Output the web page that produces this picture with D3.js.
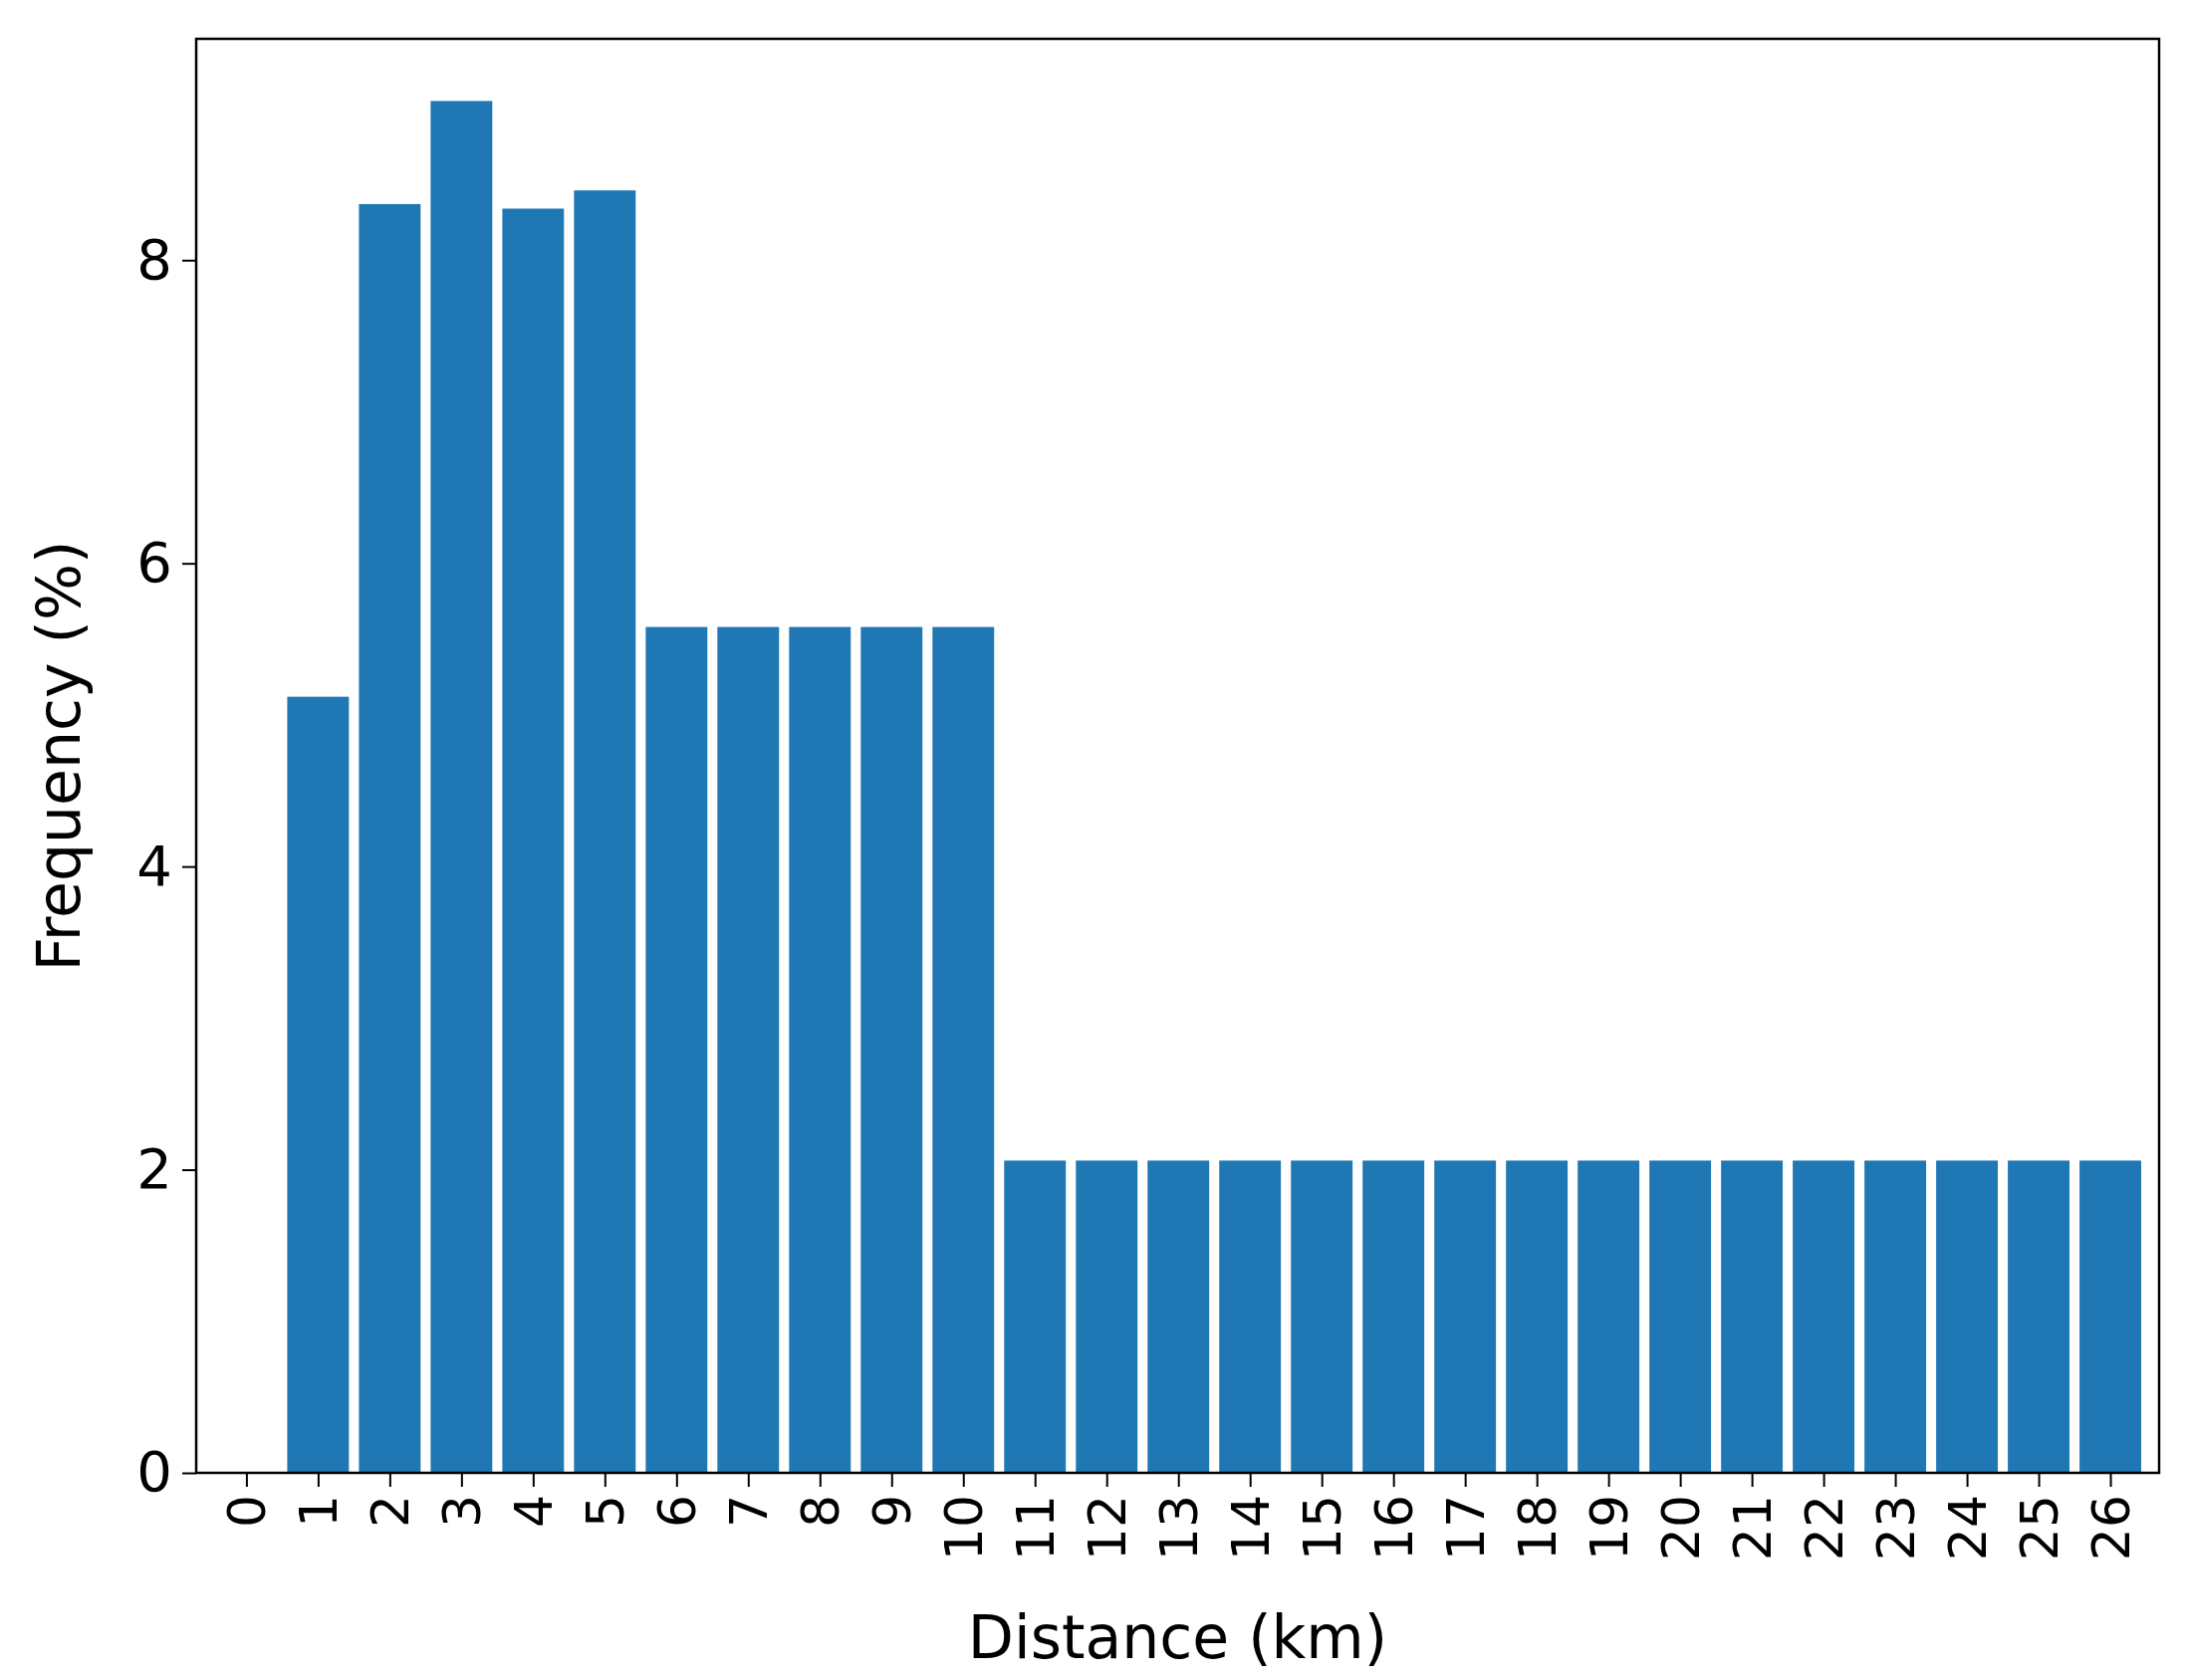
<!DOCTYPE html>
<html><head><meta charset="utf-8">
<script src="https://cdn.jsdelivr.net/npm/d3@7"></script>
<style>body{margin:0;background:#fff}</style></head>
<body><svg id="c" width="2195" height="1687"></svg>
<script>
const categories = d3.range(0, 27);
const values = [0, 5.12, 8.37, 9.05, 8.34, 8.46, 5.58, 5.58, 5.58, 5.58, 5.58,
  2.06, 2.06, 2.06, 2.06, 2.06, 2.06, 2.06, 2.06, 2.06, 2.06, 2.06, 2.06, 2.06, 2.06, 2.06, 2.06];
const yTicks = [0, 2, 4, 6, 8];

const svg = d3.select("#c");
const L = 197, R = 2168, T = 39, B = 1479;
const x = d3.scaleLinear().domain([-0.7, 26.68]).range([L, R]);
const y = d3.scaleLinear().domain([0, 9.46]).range([B, T]);
const bw = x(0.86) - x(0);
const font = "DejaVu Sans, sans-serif";

svg.selectAll("rect.bar").data(categories).enter().append("rect")
  .attr("class", "bar")
  .attr("x", d => x(d) - bw / 2)
  .attr("width", bw)
  .attr("y", (d, i) => y(values[i]))
  .attr("height", (d, i) => B - y(values[i]))
  .attr("fill", "#1f77b4");

const xa = svg.append("g").attr("transform", `translate(0,${B})`)
  .call(d3.axisBottom(x).tickValues(categories).tickFormat(d3.format("d")).tickSize(14).tickSizeOuter(0));
xa.selectAll("text").attr("font-family", font).attr("font-size", 52).attr("fill", "#000")
  .attr("transform", "rotate(-90)").attr("text-anchor", "end")
  .attr("x", -22).attr("y", 0).attr("dy", "0.35em");
const ya = svg.append("g").attr("transform", `translate(${L},0)`)
  .call(d3.axisLeft(y).tickValues(yTicks).tickSize(14).tickSizeOuter(0));
ya.selectAll("text").attr("font-family", font).attr("font-size", 56).attr("fill", "#000").attr("x", -24);
svg.selectAll(".domain").remove();
svg.selectAll(".tick line").attr("stroke", "#000").attr("stroke-width", 2);

svg.append("rect").attr("x", L).attr("y", T).attr("width", R - L).attr("height", B - T)
  .attr("fill", "none").attr("stroke", "#000").attr("stroke-width", 2.5);

svg.append("text").attr("x", (L + R) / 2).attr("y", 1665).attr("text-anchor", "middle")
  .attr("font-family", font).attr("font-size", 60).text("Distance (km)");
svg.append("text").attr("transform", `translate(80,${(T + B) / 2}) rotate(-90)`)
  .attr("text-anchor", "middle").attr("font-family", font).attr("font-size", 60).text("Frequency (%)");
</script></body></html>
